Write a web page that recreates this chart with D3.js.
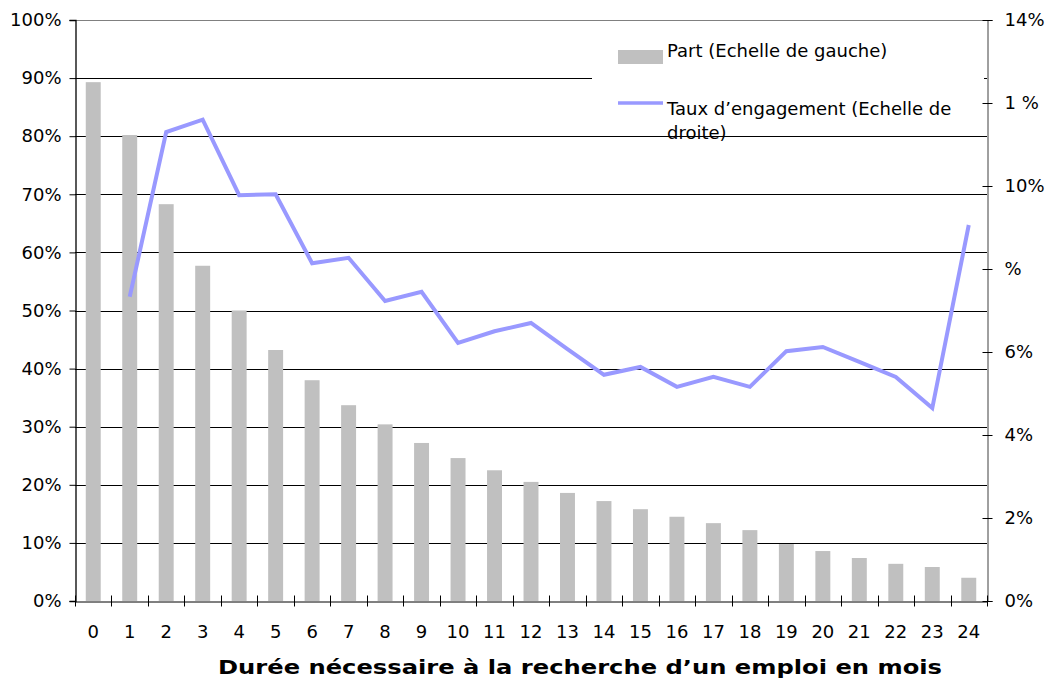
<!DOCTYPE html>
<html><head><meta charset="utf-8">
<script src="https://cdn.jsdelivr.net/npm/d3@7"></script>
<style>
body{margin:0;background:#fff}
text{font-family:"DejaVu Sans",sans-serif;fill:#000}
</style>
</head><body><svg id="c" width="1047" height="680"></svg>
<script>
const categories = ["0","1","2","3","4","5","6","7","8","9","10","11","12","13","14","15","16","17","18","19","20","21","22","23","24"];
const part = [89.3,80.2,68.3,57.7,50.0,43.2,38.0,33.7,30.4,27.2,24.6,22.5,20.5,18.6,17.2,15.8,14.5,13.4,12.2,9.8,8.6,7.4,6.4,5.85,4.0];
const taux = [null,7.33,11.3,11.6,9.78,9.8,8.14,8.27,7.23,7.45,6.22,6.5,6.7,6.07,5.45,5.64,5.16,5.4,5.16,6.02,6.12,5.76,5.4,4.65,9.06];
const leftTicks = [0,10,20,30,40,50,60,70,80,90,100];
const leftTickLabels = ["0%","10%","20%","30%","40%","50%","60%","70%","80%","90%","100%"];
const rightTicks = [0,2,4,6,8,10,12,14];
const rightTickLabels = ["0%","2%","4%","6%","%","10%","1 %","14%"];
const legendLabels = ["Part (Echelle de gauche)", ["Taux d\u2019engagement (Echelle de","droite)"]];
const xTitle = "Dur\u00e9e n\u00e9cessaire \u00e0 la recherche d\u2019un emploi en mois";

const L=75, R=987, T=20, B=601;
const svg = d3.select("#c");
const x = d3.scaleBand().domain(categories).range([L,R]).padding(0);
const yL = d3.scaleLinear().domain([0,100]).range([B,T]);
const yR = d3.scaleLinear().domain([0,14]).range([B,T]);
const bw = x.bandwidth()*0.41;
const FS = 18;

// gridlines
svg.append("g").selectAll("line").data(leftTicks.filter(d=>d>0&&d<100)).join("line")
  .attr("x1",L).attr("x2",R).attr("y1",d=>Math.round(yL(d))+0.5).attr("y2",d=>Math.round(yL(d))+0.5)
  .attr("stroke","#000").attr("stroke-width",1);
svg.append("line").attr("x1",L).attr("x2",R).attr("y1",T+0.5).attr("y2",T+0.5).attr("stroke","#808080");

// legend background
svg.append("rect").attr("x",592).attr("y",21).attr("width",392).attr("height",114).attr("fill","#fff");

// bars
svg.append("g").selectAll("rect").data(part).join("rect")
  .attr("x",(d,i)=>x(categories[i])+(x.bandwidth()-bw)/2)
  .attr("width",bw)
  .attr("y",d=>yL(d)).attr("height",d=>B-yL(d))
  .attr("fill","#C0C0C0");

// line
const line = d3.line().defined(d=>d!==null)
  .x((d,i)=>x(categories[i])+x.bandwidth()/2).y(d=>yR(d));
svg.append("path").datum(taux).attr("d",line).attr("fill","none")
  .attr("stroke","#9999FF").attr("stroke-width",4).attr("stroke-linejoin","miter");

// left axis
const gl = svg.append("g").attr("transform",`translate(${L+0.5},0)`)
  .call(d3.axisLeft(yL).tickValues(leftTicks).tickFormat((d,i)=>leftTickLabels[i]).tickSize(6).tickPadding(8));
gl.select(".domain").attr("stroke","#000").attr("stroke-width",1.3);
gl.selectAll("text").style("font-size",FS+"px");
gl.selectAll(".tick line").attr("stroke","#000");

// right axis
const gr = svg.append("g").attr("transform",`translate(${R+0.5},0)`)
  .call(d3.axisRight(yR).tickValues(rightTicks).tickFormat((d,i)=>rightTickLabels[i]).tickSize(5).tickPadding(12));
gr.select(".domain").attr("stroke","#404040");
gr.selectAll(".tick line").attr("x1",-5).attr("stroke","#000");
gr.selectAll("text").style("font-size",FS+"px");

// bottom axis
const gb = svg.append("g").attr("transform",`translate(0,${B+0.5})`)
  .call(d3.axisBottom(x).tickSize(0).tickPadding(24));
gb.select(".domain").attr("stroke","#000");
gb.selectAll("text").style("font-size",FS+"px");
const bounds = categories.map((c,i)=>x(c)).concat([R]);
gb.append("g").selectAll("line").data(bounds).join("line")
  .attr("x1",d=>Math.round(d)+0.5).attr("x2",d=>Math.round(d)+0.5).attr("y1",-6).attr("y2",5).attr("stroke","#000");

// x title
svg.append("text").attr("x",580).attr("y",674).attr("text-anchor","middle")
  .attr("textLength",724).attr("lengthAdjust","spacingAndGlyphs")
  .style("font-size","19px").style("font-weight","bold").text(xTitle);

// legend
svg.append("rect").attr("x",618).attr("y",50).attr("width",45).attr("height",14).attr("fill","#C0C0C0");
svg.append("text").attr("x",667).attr("y",57).style("font-size",FS+"px").text(legendLabels[0]);
svg.append("line").attr("x1",618).attr("x2",663).attr("y1",103).attr("y2",103).attr("stroke","#9999FF").attr("stroke-width",3.5);
svg.append("text").attr("x",667).attr("y",115).style("font-size",FS+"px").text(legendLabels[1][0]);
svg.append("text").attr("x",667).attr("y",139).style("font-size",FS+"px").text(legendLabels[1][1]);
</script>
</body></html>
